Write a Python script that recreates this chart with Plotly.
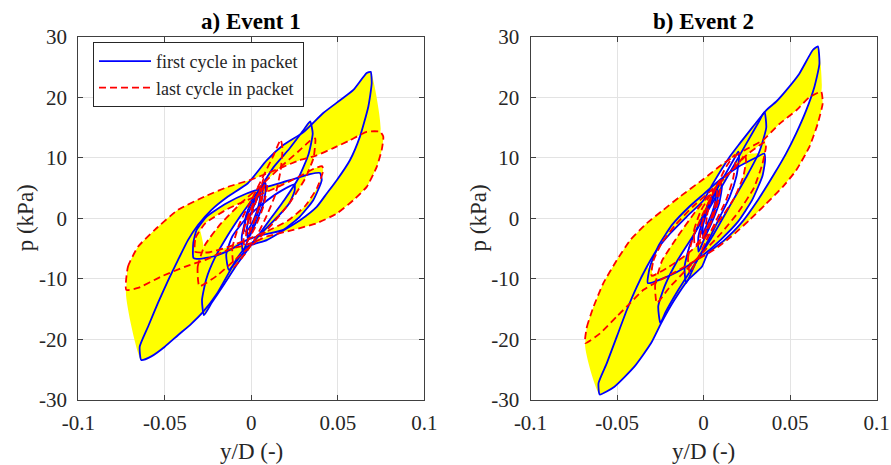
import plotly.graph_objects as go

# ---------------- data ----------------
# Event 1 -- packet A (largest)
E1_A_BLUE_UP = [(-0.0636,-23.4),(-0.0645,-21.2),(-0.0597,-17.9),(-0.054,-14.0),(-0.048,-10.2),(-0.0424,-6.9),(-0.0366,-3.6),(-0.0308,-1.1),(-0.023,1.4),(-0.0135,3.6),(-0.002,5.8),(0.009,9.6),(0.0185,12.1),(0.030,14.2),(0.0416,17.4),(0.0513,19.5),(0.059,21.2),(0.0667,24.0),(0.0690,24.2)]
E1_A_BLUE_LO = [(0.0696,22.3),(0.0676,18.4),(0.0628,13.5),(0.057,9.6),(0.0494,6.3),(0.0436,4.1),(0.0378,1.9),(0.0282,-0.3),(0.0185,-2.0),(0.0089,-3.6),(-0.0027,-4.7),(-0.008,-6.5),(-0.013,-9.0),(-0.020,-12.5),(-0.028,-15.5),(-0.035,-17.5),(-0.0424,-19.3),(-0.050,-21.2),(-0.0578,-22.8),(-0.0636,-23.4)]
E1_A_RED_UP = [(-0.0723,-11.8),(-0.0713,-8.0),(-0.0655,-4.7),(-0.0558,-1.9),(-0.0424,1.4),(-0.027,3.6),(-0.0135,5.2),(0.0,6.4),(0.0089,7.4),(0.028,9.6),(0.0378,10.4),(0.0474,11.6),(0.057,12.9),(0.0667,14.3),(0.0745,14.3)]
E1_A_RED_LO = [(0.0763,13.5),(0.0754,11.3),(0.0725,8.5),(0.0667,5.2),(0.059,3.0),(0.0494,0.8),(0.0378,-0.8),(0.0243,-1.9),(0.0089,-3.0),(0.0,-4.1),(-0.0135,-5.2),(-0.027,-6.9),(-0.0385,-8.0),(-0.052,-9.6),(-0.0655,-11.5),(-0.0723,-11.8)]
# Event 1 -- packet B
E1_B_BLUE_UP = [(-0.0274,-16.0),(-0.0285,-13.5),(-0.026,-10.0),(-0.021,-6.5),(-0.014,-3.0),(-0.006,0.5),(0.004,4.5),(0.013,8.5),(0.022,11.5),(0.030,14.5),(0.034,16.0)]
E1_B_BLUE_LO = [(0.0355,14.0),(0.033,10.5),(0.027,6.5),(0.019,3.0),(0.010,-0.5),(0.001,-4.0),(-0.008,-7.5),(-0.016,-11.0),(-0.023,-14.0),(-0.0274,-16.0)]
E1_B_RED_UP = [(-0.030,-11.2),(-0.031,-8.0),(-0.027,-4.5),(-0.018,-1.0),(-0.006,2.5),(0.006,5.5),(0.017,8.5),(0.027,11.0),(0.034,12.8),(0.037,13.2)]
E1_B_RED_LO = [(0.037,12.5),(0.036,10.0),(0.031,6.5),(0.022,2.5),(0.012,-1.0),(0.002,-4.0),(-0.010,-7.0),(-0.020,-9.5),(-0.030,-11.2)]
# Event 1 -- packet C
E1_C_BLUE_UP = [(-0.0335,-6.5),(-0.0335,-4.0),(-0.0316,-1.9),(-0.0258,0.3),(-0.0143,2.5),(-0.0027,4.1),(0.0089,5.2),(0.0224,6.3),(0.0339,7.3),(0.0397,7.5)]
E1_C_BLUE_LO = [(0.0407,6.3),(0.0358,3.0),(0.0281,0.3),(0.0185,-1.9),(0.0069,-2.7),(-0.0027,-3.6),(-0.0123,-5.2),(-0.022,-6.3),(-0.0316,-6.7),(-0.0335,-6.5)]
E1_C_RED_UP = [(-0.0325,-5.5),(-0.0322,-3.2),(-0.0265,-0.8),(-0.014,1.5),(0.0,3.3),(0.014,5.0),(0.027,6.8),(0.037,8.3),(0.041,8.6)]
E1_C_RED_LO = [(0.0415,7.8),(0.038,5.0),(0.031,2.0),(0.021,-0.4),(0.010,-2.0),(0.0,-3.2),(-0.012,-4.6),(-0.024,-5.6),(-0.0325,-5.5)]
# Event 1 -- packet D
E1_D_BLUE_UP = [(-0.013,-8.5),(-0.0145,-6.0),(-0.011,-3.0),(-0.003,0.0),(0.007,2.5),(0.017,4.5),(0.025,5.6)]
E1_D_BLUE_LO = [(0.025,4.5),(0.022,2.5),(0.016,0.5),(0.008,-1.8),(0.0,-4.2),(-0.007,-6.5),(-0.013,-8.5)]
E1_D_RED_UP = [(-0.010,-8.0),(-0.011,-5.0),(-0.007,-1.0),(0.0,3.0),(0.007,7.0),(0.013,10.5),(0.017,13.0)]
E1_D_RED_LO = [(0.018,11.5),(0.017,8.0),(0.014,4.0),(0.009,0.5),(0.003,-3.0),(-0.004,-6.0),(-0.010,-8.0)]
# Event 1 -- small central packets
E1_E_BLUE_UP = [(-0.005,-5.5),(-0.0055,-3.0),(-0.003,0.0),(0.002,3.0),(0.006,5.0),(0.008,6.0)]
E1_E_BLUE_LO = [(0.0085,5.0),(0.007,2.5),(0.003,-0.5),(-0.001,-3.0),(-0.004,-5.0),(-0.005,-5.5)]
E1_E_RED_UP = [(-0.004,-4.5),(-0.0045,-2.0),(-0.001,1.0),(0.003,3.5),(0.007,5.2),(0.009,5.8)]
E1_E_RED_LO = [(0.009,4.8),(0.007,2.0),(0.003,-1.0),(-0.001,-3.2),(-0.004,-4.5)]
E1_F_BLUE_UP = [(-0.002,-3.5),(-0.0025,-1.5),(0.0,1.0),(0.003,3.0),(0.006,4.8)]
E1_F_BLUE_LO = [(0.0065,4.0),(0.005,2.0),(0.002,-0.5),(-0.001,-2.5),(-0.002,-3.5)]
E1_F_RED_UP = [(-0.001,-2.0),(0.0,0.5),(0.003,3.0),(0.006,5.5),(0.007,6.5)]
E1_F_RED_LO = [(0.0075,5.5),(0.006,3.0),(0.003,0.5),(0.0,-1.5),(-0.001,-2.0)]
E1_G_BLUE_UP = [(-0.004,-2.0),(-0.003,0.5),(0.0,2.5),(0.004,4.0),(0.005,4.5)]
E1_G_BLUE_LO = [(0.005,3.2),(0.003,1.0),(0.0,-1.0),(-0.003,-2.2),(-0.004,-2.0)]
E1_G_RED_UP = [(-0.003,-3.0),(-0.002,-0.5),(0.001,2.0),(0.004,4.0),(0.0055,5.0)]
E1_G_RED_LO = [(0.0058,4.0),(0.004,1.5),(0.001,-1.0),(-0.002,-2.8),(-0.003,-3.0)]

# Event 2 -- packet A (largest)
E2_A_BLUE_UP = [(-0.060,-29.1),(-0.0607,-27.2),(-0.0559,-23.9),(-0.0501,-19.5),(-0.0443,-15.1),(-0.0386,-11.3),(-0.0328,-8.0),(-0.027,-5.2),(-0.0193,-2.5),(-0.0097,0.3),(0.0,3.0),(0.0053,5.7),(0.0149,10.1),(0.0207,12.3),(0.0284,15.1),(0.036,17.8),(0.042,19.3),(0.0476,21.1),(0.0553,23.9),(0.0631,27.8),(0.066,28.4)]
E2_A_BLUE_LO = [(0.0669,25.5),(0.064,21.7),(0.0592,17.8),(0.0534,14.0),(0.0476,10.7),(0.0409,7.4),(0.0313,3.0),(0.0217,-0.8),(0.012,-3.6),(0.0024,-5.8),(-0.001,-8.0),(-0.009,-10.2),(-0.0169,-13.5),(-0.0245,-17.3),(-0.0303,-20.6),(-0.040,-24.5),(-0.0515,-27.8),(-0.060,-29.1)]
E2_A_RED_UP = [(-0.0684,-20.6),(-0.0674,-17.9),(-0.0636,-14.6),(-0.0579,-10.7),(-0.0501,-6.9),(-0.0424,-3.6),(-0.0328,-0.8),(-0.0232,1.4),(-0.0136,3.6),(0.0,6.5),(0.012,9.2),(0.024,11.3),(0.0342,12.9),(0.0438,15.6),(0.0534,17.8),(0.0611,20.0),(0.0679,20.9)]
E2_A_RED_LO = [(0.0688,19.0),(0.0659,15.6),(0.0611,11.8),(0.0534,7.9),(0.0457,5.2),(0.0361,2.4),(0.0264,-0.3),(0.016,-3.0),(0.006,-5.2),(-0.005,-7.0),(-0.016,-8.8),(-0.027,-10.5),(-0.0347,-11.8),(-0.0424,-14.0),(-0.0501,-16.2),(-0.0598,-19.0),(-0.0684,-20.6)]
# Event 2 -- packet B
E2_B_BLUE_UP = [(-0.0250,-17.3),(-0.0262,-14.5),(-0.0222,-11.0),(-0.0152,-7.0),(-0.0052,-2.5),(0.005,2.5),(0.015,7.5),(0.025,12.5),(0.032,16.0),(0.0352,17.6)]
E2_B_BLUE_LO = [(0.0362,15.0),(0.0322,11.0),(0.025,7.0),(0.015,2.0),(0.005,-3.0),(-0.005,-7.5),(-0.015,-12.0),(-0.022,-15.5),(-0.0250,-17.3)]
E2_B_RED_UP = [(-0.027,-14.0),(-0.028,-11.0),(-0.024,-7.0),(-0.015,-3.0),(-0.005,1.0),(0.005,4.5),(0.015,7.5),(0.025,10.5),(0.033,12.2),(0.0355,12.6)]
E2_B_RED_LO = [(0.036,11.8),(0.034,9.0),(0.029,5.0),(0.020,1.0),(0.010,-2.5),(0.0,-5.5),(-0.010,-8.5),(-0.020,-11.5),(-0.027,-14.0)]
# Event 2 -- packet C
E2_C_BLUE_UP = [(-0.0322,-10.7),(-0.031,-8.0),(-0.026,-4.5),(-0.018,-1.0),(-0.008,2.0),(0.0,4.0),(0.010,6.5),(0.020,8.5),(0.030,10.0),(0.035,10.7)]
E2_C_BLUE_LO = [(0.0355,9.5),(0.034,7.0),(0.028,3.0),(0.020,-0.5),(0.010,-3.5),(0.0,-6.0),(-0.010,-8.0),(-0.020,-9.5),(-0.0322,-10.7)]
E2_C_RED_UP = [(-0.030,-9.5),(-0.029,-7.0),(-0.024,-4.0),(-0.016,-1.0),(-0.006,2.0),(0.004,4.5),(0.013,7.0),(0.020,9.0),(0.024,10.5)]
E2_C_RED_LO = [(0.0245,9.5),(0.023,7.0),(0.018,3.5),(0.010,0.0),(0.0,-3.5),(-0.010,-6.0),(-0.020,-8.0),(-0.030,-9.5)]
# Event 2 -- packet D
E2_D_BLUE_UP = [(-0.0101,-10.7),(-0.011,-8.0),(-0.008,-4.5),(-0.002,-0.5),(0.005,3.5),(0.012,7.0),(0.018,10.0),(0.020,11.0)]
E2_D_BLUE_LO = [(0.0205,10.0),(0.019,7.0),(0.015,3.5),(0.009,0.0),(0.003,-3.5),(-0.004,-7.0),(-0.0101,-10.7)]
E2_D_RED_UP = [(-0.008,-9.0),(-0.009,-6.5),(-0.006,-3.0),(0.0,1.0),(0.007,5.0),(0.013,8.5),(0.018,10.5)]
E2_D_RED_LO = [(0.0185,9.5),(0.017,6.5),(0.013,3.0),(0.007,-0.5),(0.001,-4.0),(-0.004,-7.0),(-0.008,-9.0)]
# Event 2 -- small central packets
E2_E_BLUE_UP = [(-0.003,-5.5),(-0.003,-3.0),(0.0,0.0),(0.004,3.0),(0.008,5.0),(0.010,6.0)]
E2_E_BLUE_LO = [(0.0105,5.0),(0.009,2.5),(0.005,-0.5),(0.001,-3.0),(-0.002,-5.0),(-0.003,-5.5)]
E2_E_RED_UP = [(-0.005,-4.5),(-0.0055,-2.0),(-0.002,1.0),(0.003,3.5),(0.008,5.5),(0.010,6.3)]
E2_E_RED_LO = [(0.010,5.3),(0.008,2.5),(0.004,-0.8),(-0.001,-3.2),(-0.005,-4.5)]
E2_F_BLUE_UP = [(0.0,-3.5),(-0.0005,-1.5),(0.002,1.0),(0.005,3.0),(0.008,4.8)]
E2_F_BLUE_LO = [(0.0085,4.0),(0.007,2.0),(0.004,-0.5),(0.001,-2.5),(0.0,-3.5)]
E2_F_RED_UP = [(0.001,-2.5),(0.002,0.5),(0.004,3.0),(0.007,5.0),(0.009,6.0)]
E2_F_RED_LO = [(0.0095,5.0),(0.008,2.5),(0.005,0.0),(0.002,-2.0),(0.001,-2.5)]
E2_G_BLUE_UP = [(-0.001,-2.5),(0.0,0.0),(0.003,2.5),(0.006,4.0),(0.007,4.5)]
E2_G_BLUE_LO = [(0.007,3.2),(0.005,1.0),(0.002,-1.0),(-0.0005,-2.5),(-0.001,-2.5)]
E2_G_RED_UP = [(-0.002,-3.5),(-0.001,-1.0),(0.002,2.0),(0.005,4.0),(0.0075,5.2)]
E2_G_RED_LO = [(0.0078,4.2),(0.006,1.5),(0.003,-1.0),(0.0,-3.0),(-0.002,-3.5)]

X_TICKS = [-0.1, -0.05, 0, 0.05, 0.1]
X_TICK_TEXT = ["-0.1", "-0.05", "0", "0.05", "0.1"]
Y_TICKS = [-30, -20, -10, 0, 10, 20, 30]
Y_TICK_TEXT = ["-30", "-20", "-10", "0", "10", "20", "30"]
PANEL_TITLES = ["a) Event 1", "b) Event 2"]
X_LABEL = "y/D (-)"
Y_LABEL = "p (kPa)"
LEGEND_NAMES = ["first cycle in packet", "last cycle in packet"]

# packets: (blue_up, blue_lo, red_up, red_lo, sweep-filled?)
E1_PACKETS = [
    (E1_A_BLUE_UP, E1_A_BLUE_LO, E1_A_RED_UP, E1_A_RED_LO, True),
    (E1_B_BLUE_UP, E1_B_BLUE_LO, E1_B_RED_UP, E1_B_RED_LO, True),
    (E1_C_BLUE_UP, E1_C_BLUE_LO, E1_C_RED_UP, E1_C_RED_LO, True),
    (E1_D_BLUE_UP, E1_D_BLUE_LO, E1_D_RED_UP, E1_D_RED_LO, False),
    (E1_E_BLUE_UP, E1_E_BLUE_LO, E1_E_RED_UP, E1_E_RED_LO, False),
    (E1_F_BLUE_UP, E1_F_BLUE_LO, E1_F_RED_UP, E1_F_RED_LO, False),
    (E1_G_BLUE_UP, E1_G_BLUE_LO, E1_G_RED_UP, E1_G_RED_LO, False),
]
E2_PACKETS = [
    (E2_A_BLUE_UP, E2_A_BLUE_LO, E2_A_RED_UP, E2_A_RED_LO, True),
    (E2_B_BLUE_UP, E2_B_BLUE_LO, E2_B_RED_UP, E2_B_RED_LO, True),
    (E2_C_BLUE_UP, E2_C_BLUE_LO, E2_C_RED_UP, E2_C_RED_LO, True),
    (E2_D_BLUE_UP, E2_D_BLUE_LO, E2_D_RED_UP, E2_D_RED_LO, False),
    (E2_E_BLUE_UP, E2_E_BLUE_LO, E2_E_RED_UP, E2_E_RED_LO, False),
    (E2_F_BLUE_UP, E2_F_BLUE_LO, E2_F_RED_UP, E2_F_RED_LO, False),
    (E2_G_BLUE_UP, E2_G_BLUE_LO, E2_G_RED_UP, E2_G_RED_LO, False),
]
# left-hand interior of the largest packet is also swept by intermediate cycles
FILL_XCUT = [-0.03, -0.03]

# ---------------- styling ----------------
W, H = 891, 465
FONT = "Liberation Serif"
BLUE = "#0000ff"
RED = "#ff0000"
YELLOW = "#ffff00"
GRID = "#e3e3e3"
AXC = "#404040"
PLOT_L = [(78.3, 424.3), (530.5, 876.7)]
PLOT_TOP, PLOT_BOT = 36.7, 400.0
LW = 1.8


def xs(pts):
    return [p[0] for p in pts]


def ys(pts):
    return [p[1] for p in pts]


fig = go.Figure()
shown = {"b": False, "r": False}


def add_fill(poly, xa, ya):
    fig.add_trace(go.Scatter(
        x=xs(poly), y=ys(poly), xaxis=xa, yaxis=ya, mode="lines",
        fill="toself", fillcolor=YELLOW,
        line=dict(color="rgba(0,0,0,0)", width=0, shape="spline", smoothing=0.5),
        showlegend=False, hoverinfo="skip"))


for k, packets in enumerate([E1_PACKETS, E2_PACKETS]):
    xa = "x" if k == 0 else "x2"
    ya = "y" if k == 0 else "y2"
    # yellow sweeps (intermediate cycles)
    for i, (bu, bl, ru, rl, filled) in enumerate(packets):
        if not filled:
            continue
        add_fill(bu + ru[::-1], xa, ya)
        add_fill([bu[-1]] + bl + ([ru[-1]] + rl)[::-1], xa, ya)
        if i == 0:
            cut = FILL_XCUT[k]
            add_fill([p for p in bu if p[0] <= cut] + [p for p in rl if p[0] <= cut + 0.003], xa, ya)
    # first cycles (blue)
    for bu, bl, ru, rl, filled in packets:
        loop = bu + bl
        fig.add_trace(go.Scatter(
            x=xs(loop), y=ys(loop), xaxis=xa, yaxis=ya, mode="lines",
            line=dict(color=BLUE, width=LW, shape="spline", smoothing=0.5),
            name=LEGEND_NAMES[0], showlegend=not shown["b"]))
        shown["b"] = True
    # last cycles (red dashed)
    for bu, bl, ru, rl, filled in packets:
        loop = ru + rl
        fig.add_trace(go.Scatter(
            x=xs(loop), y=ys(loop), xaxis=xa, yaxis=ya, mode="lines",
            line=dict(color=RED, width=LW, dash="7px,4px", shape="spline", smoothing=0.5),
            name=LEGEND_NAMES[1], showlegend=not shown["r"]))
        shown["r"] = True

ydom = [1 - PLOT_BOT / H, 1 - PLOT_TOP / H]
axis_common = dict(showline=True, linecolor=AXC, linewidth=1, mirror="ticks",
                   ticks="inside", ticklen=5, tickcolor=AXC, tickwidth=1,
                   showgrid=True, gridcolor=GRID, gridwidth=1, zeroline=False,
                   automargin=False, ticklabeloverflow="allow",
                   tickfont=dict(family=FONT, size=21, color="#262626"))
layout = dict(
    width=W, height=H, margin=dict(l=0, r=0, t=0, b=0, pad=0, autoexpand=False),
    paper_bgcolor="white", plot_bgcolor="white",
    font=dict(family=FONT, color="#262626"),
    legend=dict(x=93 / W, y=1 - 42 / H, xanchor="left", yanchor="top",
                bgcolor="white", bordercolor="#262626", borderwidth=1,
                font=dict(family=FONT, size=18, color="#262626"),
                tracegroupgap=0, itemwidth=52),
)
for k in range(2):
    sx = "" if k == 0 else "2"
    layout["xaxis" + sx] = dict(axis_common, domain=[PLOT_L[k][0] / W, PLOT_L[k][1] / W],
                                range=[-0.1, 0.1], tickvals=X_TICKS, ticktext=X_TICK_TEXT,
                                anchor="y" + sx, ticklabelstandoff=4)
    layout["yaxis" + sx] = dict(axis_common, domain=ydom, range=[-30, 30],
                                tickvals=Y_TICKS, ticktext=Y_TICK_TEXT,
                                anchor="x" + sx, ticklabelstandoff=6)
fig.update_layout(**layout)

ann = []
for k in range(2):
    cx = (PLOT_L[k][0] + PLOT_L[k][1]) / 2 / W
    ann.append(dict(text="<b>%s</b>" % PANEL_TITLES[k], x=cx, y=1 - 21 / H, xref="paper", yref="paper",
                    showarrow=False, xanchor="center", yanchor="middle",
                    font=dict(family=FONT, size=23, color="#000000")))
    ann.append(dict(text=X_LABEL, x=cx, y=1 - 451 / H, xref="paper", yref="paper",
                    showarrow=False, xanchor="center", yanchor="middle",
                    font=dict(family=FONT, size=23, color="#262626")))
    ann.append(dict(text=Y_LABEL, x=(PLOT_L[k][0] - 52) / W, y=1 - 218 / H, xref="paper", yref="paper",
                    showarrow=False, xanchor="center", yanchor="middle", textangle=-90,
                    font=dict(family=FONT, size=23, color="#262626")))
fig.update_layout(annotations=ann)

fig.write_html("out.html", config={"displayModeBar": False},
               post_script="document.body.style.margin='0';document.body.style.overflow='hidden';")
